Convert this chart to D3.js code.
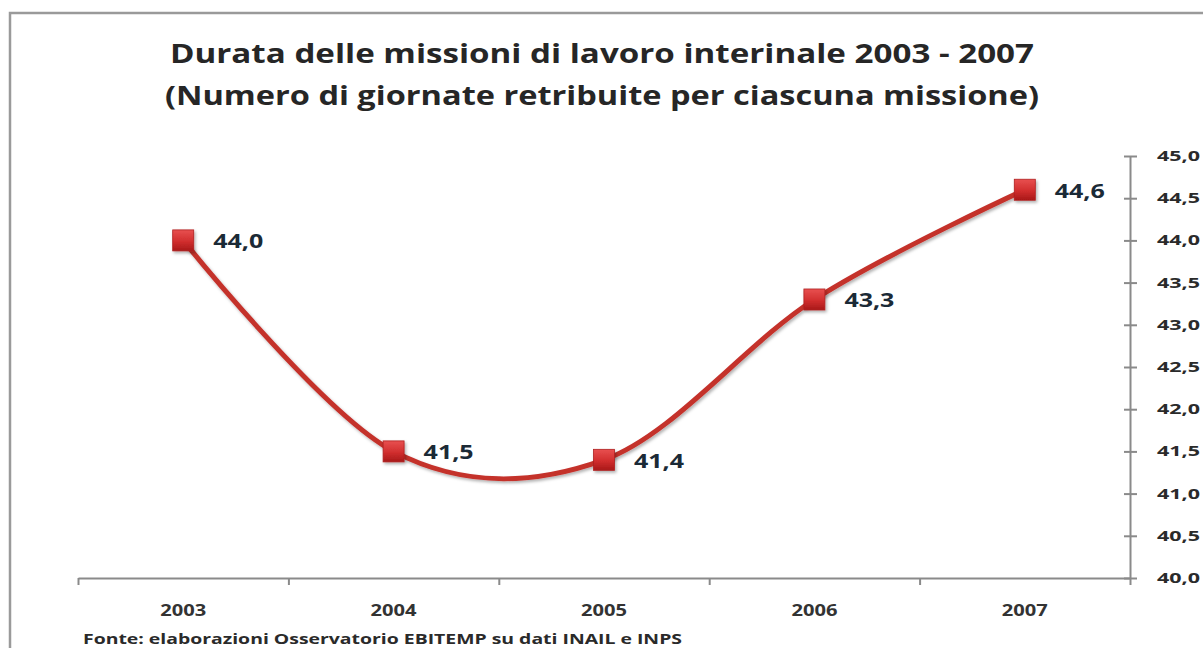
<!DOCTYPE html>
<html>
<head>
<meta charset="utf-8">
<script src="https://cdn.jsdelivr.net/npm/d3@7"></script>
<style>
  html, body { margin: 0; padding: 0; background: #fff; }
  svg { display: block; }
  text { font-family: "Open Sans", "Noto Sans", sans-serif; font-weight: 700; }
</style>
</head>
<body>
<svg id="chart" width="1203" height="648"></svg>
<script>
// Durata media delle missioni (giornate retribuite per missione)
const years = ["2003", "2004", "2005", "2006", "2007"];
const giornate = [44.0, 41.5, 41.4, 43.3, 44.6];
const yTicks = [40.0, 40.5, 41.0, 41.5, 42.0, 42.5, 43.0, 43.5, 44.0, 44.5, 45.0];
const titleLines = [
  "Durata delle missioni di lavoro interinale 2003 - 2007",
  "(Numero di giornate retribuite per ciascuna missione)"
];
const sourceNote = "Fonte: elaborazioni Osservatorio EBITEMP su dati INAIL e INPS";

const svg = d3.select("#chart");
const fmt = v => d3.format(".1f")(v).replace(".", ",");

const plot = { left: 78, right: 1130, top: 156, bottom: 578 };

const x = d3.scaleBand().domain(years).range([plot.left, plot.right]).paddingInner(0).paddingOuter(0);
const xEdges = d3.scaleLinear().domain([0, years.length]).range([plot.left, plot.right]);
const y = d3.scaleLinear().domain([40, 45]).range([plot.bottom, plot.top]);

// outer frame
svg.append("rect")
  .attr("x", 10).attr("y", 13)
  .attr("width", 1220).attr("height", 660)
  .attr("fill", "none")
  .attr("stroke", "#9a9a9a")
  .attr("stroke-width", 2.5);

// title
const titleBase = [63, 105];
const titleSpan = [[170, 1034], [165, 1039]];
titleLines.forEach((t, i) => {
  svg.append("text")
    .attr("x", titleSpan[i][0])
    .attr("y", titleBase[i])
    .attr("font-size", 27)
    .attr("fill", "#262626")
    .attr("textLength", titleSpan[i][1] - titleSpan[i][0])
    .attr("lengthAdjust", "spacingAndGlyphs")
    .text(t);
});

// x axis: line with ticks at category boundaries
const xAxisG = svg.append("g").attr("transform", `translate(0,${plot.bottom})`);
xAxisG.call(
  d3.axisBottom(xEdges).tickValues(d3.range(0, years.length + 1)).tickFormat("").tickSize(7).tickSizeOuter(0)
);
xAxisG.selectAll("path, line").attr("stroke", "#8a8a8a").attr("stroke-width", 2);

const xLabels = svg.append("g").attr("transform", `translate(0,${plot.bottom})`);
xLabels.call(d3.axisBottom(x).tickSize(0).tickPadding(0));
xLabels.select(".domain").remove();
xLabels.selectAll("text")
  .attr("y", 38)
  .attr("dy", null)
  .attr("font-size", 16)
  .attr("fill", "#333")
  .attr("textLength", 46)
  .attr("lengthAdjust", "spacingAndGlyphs");

// y axis on the right, ticks crossing the axis line
const yAxisG = svg.append("g").attr("transform", `translate(${plot.right},0)`);
yAxisG.call(
  d3.axisRight(y).tickValues(yTicks).tickFormat(fmt).tickSize(7).tickSizeOuter(0).tickPadding(20)
);
yAxisG.select(".domain").attr("stroke", "#8a8a8a").attr("stroke-width", 2);
yAxisG.selectAll(".tick line").attr("x1", -6).attr("stroke", "#8a8a8a").attr("stroke-width", 2);
yAxisG.selectAll(".tick text")
  .attr("font-size", 14)
  .attr("fill", "#2a2a2a")
  .attr("textLength", 43)
  .attr("lengthAdjust", "spacingAndGlyphs");
yAxisG.selectAll("text").attr("font-family", null);
xLabels.selectAll("text").attr("font-family", null);

// series
const pts = years.map((yr, i) => ({ year: yr, value: giornate[i] }));
const cx = d => x(d.year) + x.bandwidth() / 2;

const defs = svg.append("defs");
const grad = defs.append("linearGradient").attr("id", "mk").attr("x1", 0).attr("y1", 0).attr("x2", 0).attr("y2", 1);
grad.append("stop").attr("offset", "0%").attr("stop-color", "#e85050");
grad.append("stop").attr("offset", "55%").attr("stop-color", "#d12e2e");
grad.append("stop").attr("offset", "100%").attr("stop-color", "#a81818");
const sh = defs.append("filter").attr("id", "sh").attr("x", "-50%").attr("y", "-50%").attr("width", "200%").attr("height", "200%");
sh.append("feDropShadow").attr("dx", 1.5).attr("dy", 2).attr("stdDeviation", 1.8).attr("flood-color", "#000").attr("flood-opacity", 0.3);

const line = d3.line()
  .x(cx)
  .y(d => y(d.value))
  .curve(d3.curveCardinal.tension(0));

svg.append("path")
  .datum(pts)
  .attr("d", line)
  .attr("fill", "none")
  .attr("stroke", "#c4302c")
  .attr("stroke-width", 5)
  .attr("stroke-linecap", "round")
  .attr("filter", "url(#sh)");

const ms = 21;
svg.append("g").selectAll("rect")
  .data(pts)
  .join("rect")
  .attr("x", d => cx(d) - ms / 2)
  .attr("y", d => y(d.value) - ms / 2)
  .attr("width", ms)
  .attr("height", ms)
  .attr("fill", "url(#mk)")
  .attr("stroke", "#b02020")
  .attr("stroke-width", 0.8)
  .attr("filter", "url(#sh)");

svg.append("g").selectAll("text")
  .data(pts)
  .join("text")
  .attr("x", d => cx(d) + 30)
  .attr("y", d => y(d.value) + 8)
  .attr("font-size", 19)
  .attr("fill", "#1b2a36")
  .attr("textLength", 50)
  .attr("lengthAdjust", "spacingAndGlyphs")
  .text(d => fmt(d.value));

// source note
svg.append("text")
  .attr("x", 83)
  .attr("y", 644)
  .attr("font-size", 15)
  .attr("fill", "#2a2a2a")
  .attr("textLength", 599)
  .attr("lengthAdjust", "spacingAndGlyphs")
  .text(sourceNote);
</script>
</body>
</html>
